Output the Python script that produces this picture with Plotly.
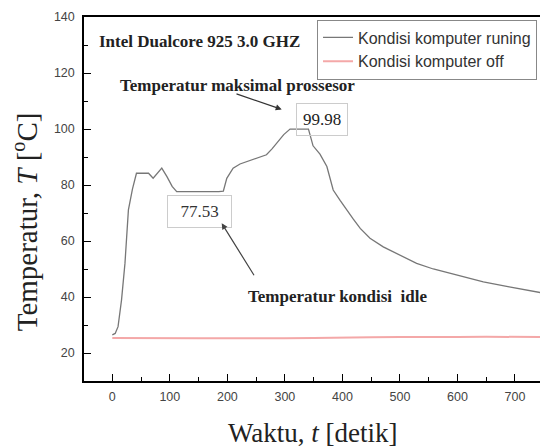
import plotly.graph_objects as go

# Processor temperature while the computer is running (seconds, deg C)
t_run = [0, 5, 10, 16, 22, 28, 35, 42, 52, 63, 71, 78, 86, 95, 104, 112,
         130, 150, 170, 185, 193, 199, 210, 222, 234, 246, 257, 268, 278, 286,
         298, 309, 320, 331, 341, 349, 361, 373, 384, 396, 407, 419, 431, 448,
         471, 500, 529, 558, 587, 616, 645, 690, 738, 744]
T_run = [26.5, 27, 29.4, 38.9, 52, 71.1, 78.5, 84.2, 84.2, 84.2, 82.4, 84, 86, 83,
         79.5, 77.6, 77.53, 77.5, 77.6, 77.6, 77.8, 82.4, 86, 87.5, 88.4, 89.3,
         90.2, 90.8, 93, 95, 98, 99.98, 99.98, 99.98, 99.98, 94, 91, 86.6, 78.2,
         74.5, 71.1, 67.8, 64.5, 61, 57.9, 54.8, 52, 50, 48.4, 46.8, 45.4, 43.6,
         41.8, 41.6]

# Temperature with the computer switched off
t_off = [0, 50, 100, 150, 200, 250, 300, 350, 400, 450, 500, 550, 600, 650, 700, 744]
T_off = [25.4, 25.3, 25.2, 25.3, 25.3, 25.2, 25.3, 25.4, 25.6, 25.6, 25.7, 25.6, 25.7, 25.8, 25.7, 25.7]

peak_label = "99.98"
idle_label = "77.53"

x_ticks = [0, 100, 200, 300, 400, 500, 600, 700]
y_ticks = [20, 40, 60, 80, 100, 120, 140]

fig = go.Figure()
fig.add_trace(go.Scatter(
    x=t_run, y=T_run, mode="lines", name="Kondisi komputer runing",
    line=dict(color="#777777", width=1.3)))
fig.add_trace(go.Scatter(
    x=t_off, y=T_off, mode="lines", name="Kondisi komputer off",
    line=dict(color="#f4a8a8", width=2)))

serif = "Liberation Serif, Times New Roman, serif"
sans = "Liberation Sans, Arial, sans-serif"

anns = [
    dict(x=151.6, y=131.1, text="<b>Intel Dualcore 925 3.0 GHZ</b>", showarrow=False,
         font=dict(family=serif, size=17, color="#222")),
    dict(x=218.5, y=115.4, text="<b>Temperatur maksimal prossesor</b>", showarrow=False,
         font=dict(family=serif, size=17, color="#222")),
    dict(x=391.5, y=40.2, text="<b>Temperatur kondisi  idle</b>", showarrow=False,
         font=dict(family=serif, size=17, color="#222")),
    dict(x=364, y=103.4, text=peak_label, showarrow=False, width=50, height=31,
         bordercolor="#cccccc", borderwidth=1, borderpad=0,
         font=dict(family=serif, size=17, color="#222")),
    dict(x=151, y=70.5, text=idle_label, showarrow=False, width=63, height=31,
         bordercolor="#cccccc", borderwidth=1, borderpad=0,
         font=dict(family=serif, size=17, color="#333")),
    # arrows
    dict(x=294.5, y=107.0, ax=213.3, ay=112.75, axref="x", ayref="y", text="",
         showarrow=True, arrowhead=2, arrowsize=1, arrowwidth=1.2, arrowcolor="#333"),
    dict(x=190.2, y=66.3, ax=248, ay=47.25, axref="x", ayref="y", text="",
         showarrow=True, arrowhead=2, arrowsize=1, arrowwidth=1.2, arrowcolor="#444"),
    # axis titles
    dict(xref="paper", yref="paper", x=-0.13, y=0.438, textangle=-90,
         xanchor="center", yanchor="middle",
         text="Temperatur, <i>T</i> [<sup>o</sup>C]", showarrow=False,
         font=dict(family=serif, size=29, color="#222")),
    dict(xref="paper", yref="paper", x=0.503, y=-0.143,
         xanchor="center", yanchor="middle",
         text="Waktu, <i>t</i> [detik]", showarrow=False,
         font=dict(family=serif, size=27, color="#222")),
]

fig.update_layout(
    width=540, height=447,
    margin=dict(l=84, r=0, t=17, b=66),
    paper_bgcolor="white", plot_bgcolor="white",
    showlegend=True,
    legend=dict(x=0.511, y=0.993, xanchor="left", yanchor="top",
                bordercolor="#888", borderwidth=1, bgcolor="white",
                font=dict(family=sans, size=16, color="#333"),
                tracegroupgap=0, itemwidth=30),
    annotations=anns,
)
fig.update_xaxes(
    range=[-49.2, 743.5], tickvals=x_ticks, showgrid=False, zeroline=False,
    showline=True, linecolor="black", linewidth=1.5, mirror=True,
    ticks="inside", ticklen=7, tickcolor="black", ticklabelstandoff=3,
    minor=dict(dtick=50, tick0=0, ticks="inside", ticklen=4, tickcolor="black"),
    tickfont=dict(family=sans, size=12.5, color="#444"))
fig.update_yaxes(
    range=[10, 140], tickvals=y_ticks, showgrid=False, zeroline=False,
    showline=True, linecolor="black", linewidth=1.5, mirror=False,
    ticks="inside", ticklen=7, tickcolor="black", ticklabelstandoff=5,
    minor=dict(dtick=10, tick0=0, ticks="inside", ticklen=4, tickcolor="black"),
    tickfont=dict(family=sans, size=12.5, color="#444"))

fig.write_html("out.html")
